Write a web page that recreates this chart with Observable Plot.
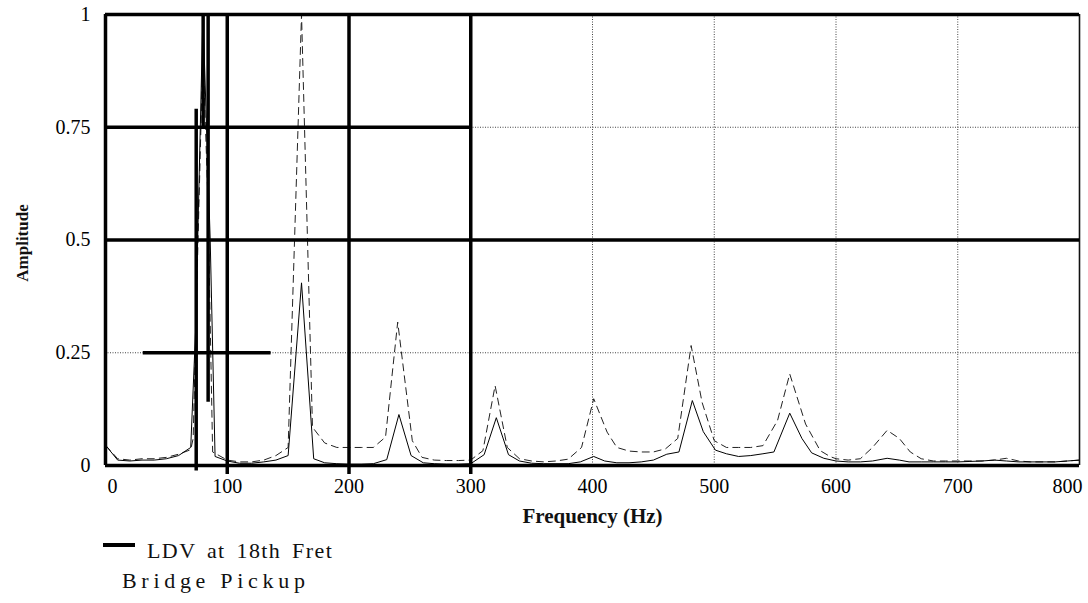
<!DOCTYPE html>
<html><head><meta charset="utf-8">
<script src="https://cdn.jsdelivr.net/npm/d3@7"></script>
<script src="https://cdn.jsdelivr.net/npm/@observablehq/plot@0.6"></script>
<style>
body{margin:0;background:#fff;}
#wrap{position:relative;width:1088px;height:603px;font-family:"Liberation Serif","Times New Roman",serif;background:#fff;}
#wrap svg{position:absolute;left:0;top:0;}
.sw{position:absolute;left:103px;top:543px;width:32px;height:4px;background:#000;}
.lt{position:absolute;font-size:22px;line-height:22px;color:#111;white-space:nowrap;}
</style></head><body><div id="wrap"></div>
<script>
// tick values
const xTicks = [0, 100, 200, 300, 400, 500, 600, 700, 800];
const yTicks = [0, 0.25, 0.5, 0.75, 1];

// Series: LDV at 18th Fret (solid)
const ldvFreq = [0,10,20,30,40,50,60,70,74,80,86,90,100,110,120,130,140,150,161,171,180,190,200,210,220,231,241,251,261,270,280,290,300,311,321,331,340,350,360,370,380,390,401,410,420,430,440,450,461,471,482,491,501,510,520,530,540,549,562,572,580,590,600,610,620,630,642,652,660,670,680,690,700,710,720,730,740,750,760,770,780,790,800];
const ldvAmp  = [0.045,0.012,0.01,0.012,0.012,0.015,0.022,0.04,0.3,1.0,0.5,0.02,0.01,0.005,0.005,0.008,0.012,0.022,0.405,0.015,0.006,0.004,0.003,0.003,0.004,0.013,0.113,0.022,0.006,0.004,0.003,0.003,0.004,0.024,0.106,0.024,0.01,0.005,0.004,0.004,0.004,0.008,0.02,0.01,0.006,0.006,0.008,0.012,0.025,0.03,0.144,0.075,0.034,0.026,0.02,0.022,0.026,0.03,0.116,0.06,0.028,0.016,0.01,0.008,0.008,0.01,0.016,0.012,0.008,0.008,0.008,0.008,0.008,0.009,0.01,0.012,0.01,0.008,0.008,0.008,0.008,0.01,0.012];

// Series: Bridge Pickup (dashed)
const bridgeFreq = [0,10,20,30,40,50,60,70,72,76,80,84,88,100,110,120,130,140,150,161,170,180,190,200,210,220,230,240,252,260,270,280,290,300,310,320,330,340,350,360,370,380,391,401,412,420,430,440,450,460,470,481,490,500,510,520,530,540,552,562,575,587,595,600,610,620,630,642,652,661,670,680,690,700,710,720,730,740,750,760,770,780,790,800];
const bridgeAmp  = [0.045,0.015,0.012,0.015,0.015,0.018,0.025,0.035,0.06,0.5,0.92,0.6,0.03,0.012,0.008,0.008,0.012,0.022,0.04,1.0,0.085,0.05,0.04,0.04,0.04,0.04,0.063,0.318,0.055,0.018,0.012,0.011,0.011,0.012,0.033,0.177,0.04,0.015,0.01,0.008,0.01,0.014,0.04,0.148,0.074,0.04,0.032,0.03,0.03,0.037,0.06,0.266,0.14,0.055,0.04,0.04,0.04,0.044,0.1,0.203,0.092,0.033,0.02,0.015,0.012,0.015,0.04,0.078,0.06,0.03,0.015,0.01,0.01,0.01,0.01,0.01,0.012,0.016,0.01,0.008,0.008,0.008,0.01,0.012,0.015];

// heavy (over-inked) grid segments seen in the scan, in data units
const heavyY  = [1, 0.75, 0.5, 0.25, 0];
const heavyX1 = [0, 0, 0, 31, 0];
const heavyX2 = [800, 300, 800, 136, 800];
const heavyVX  = [0, 100, 200, 300, 74.5, 80.2, 84.3];
const heavyVY1 = [0, -0.02, -0.02, -0.02, -0.012, 0.75, 0.14];
const heavyVY2 = [1, 1, 1, 1, 0.79, 1, 1];

const ldv = ldvFreq.map((f, i) => ({f, a: ldvAmp[i]}));
const bridge = bridgeFreq.map((f, i) => ({f, a: bridgeAmp[i]}));
const hRules = heavyY.map((y, i) => ({y, x1: heavyX1[i], x2: heavyX2[i]}));
const vRules = heavyVX.map((x, i) => ({x, y1: heavyVY1[i], y2: heavyVY2[i]}));

const font = '"Liberation Serif","Times New Roman",serif';

const chart = Plot.plot({
  width: 1088,
  height: 530,
  marginLeft: 105,
  marginRight: 9,
  marginTop: 14,
  marginBottom: 65,
  style: {fontFamily: font, fontSize: "20px", color: "#000", background: "transparent", overflow: "visible"},
  x: {domain: [0, 800]},
  y: {domain: [0, 1]},
  marks: [
    Plot.ruleX(xTicks.slice(1, -1), {stroke: "#444", strokeWidth: 1, strokeDasharray: "1,1.5"}),
    Plot.ruleY(yTicks.slice(1, -1), {stroke: "#444", strokeWidth: 1, strokeDasharray: "1,1.5"}),
    Plot.ruleX([800], {stroke: "#111", strokeWidth: 1.6}),
    Plot.line(bridge, {x: "f", y: "a", stroke: "#222", strokeWidth: 1, strokeDasharray: "7,5", clip: true}),
    Plot.line(ldv, {x: "f", y: "a", stroke: "#000", strokeWidth: 1, clip: true}),
    Plot.ruleY(hRules, {y: "y", x1: "x1", x2: "x2", stroke: "#000", strokeWidth: 3.5}),
    Plot.ruleX(vRules, {x: "x", y1: "y1", y2: "y2", stroke: "#000", strokeWidth: 3.5}),
    Plot.axisY(yTicks, {tickSize: 0, tickPadding: 15, tickFormat: d => String(d), fontSize: 20, label: null}),
    Plot.axisX([0], {tickSize: 0, tickPadding: 13, dx: 7, tickFormat: d => String(d), fontSize: 20, label: null}),
    Plot.axisX(xTicks.slice(1, -1), {tickSize: 0, tickPadding: 13, tickFormat: d => String(d), fontSize: 20, label: null}),
    Plot.axisX([800], {tickSize: 0, tickPadding: 13, dx: -12, tickFormat: d => String(d), fontSize: 20, label: null}),
    Plot.text(["Amplitude"], {frameAnchor: "left", dx: -83, dy: 3, rotate: -90, textAnchor: "middle", fontWeight: "bold", fontSize: 17, fill: "#111"}),
    Plot.text(["Frequency (Hz)"], {frameAnchor: "bottom", dy: 57, fontWeight: "bold", fontSize: 21, fill: "#111"})
  ]
});

const wrap = document.getElementById("wrap");
wrap.appendChild(chart);
const sw = document.createElement("div"); sw.className = "sw"; wrap.appendChild(sw);
const t1 = document.createElement("div"); t1.className = "lt";
t1.style.left = "147px"; t1.style.top = "540px"; t1.style.letterSpacing = "1.4px"; t1.style.wordSpacing = "4px";
t1.textContent = "LDV at 18th Fret"; wrap.appendChild(t1);
const t2 = document.createElement("div"); t2.className = "lt";
t2.style.left = "122px"; t2.style.top = "570px"; t2.style.letterSpacing = "4.7px";
t2.textContent = "Bridge Pickup"; wrap.appendChild(t2);
</script>
</body></html>
